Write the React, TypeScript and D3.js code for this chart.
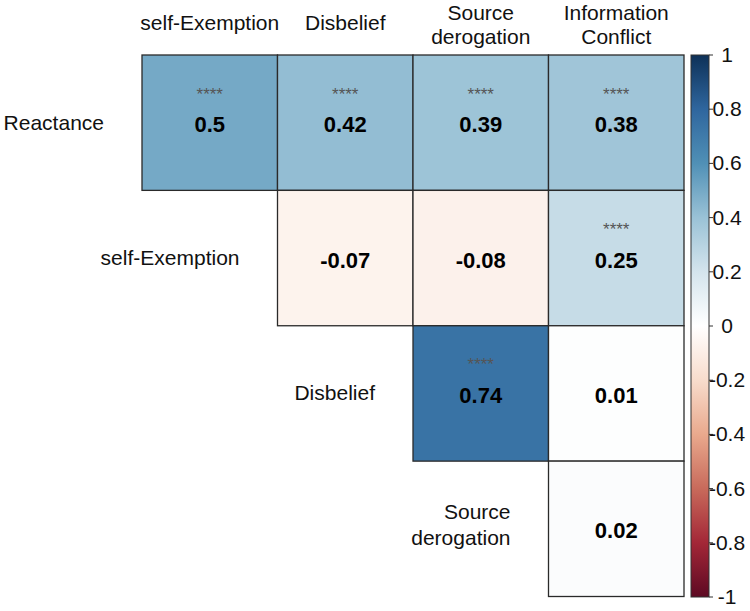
import React from "react";
import * as d3 from "d3";

const rowLabels = ["Reactance", "self-Exemption", "Disbelief", "Source\nderogation"];
const colLabels = ["self-Exemption", "Disbelief", "Source\nderogation", "Information\nConflict"];
// upper-triangle correlations: row i, col j (j >= i)
const corrRow0 = [0.5, 0.42, 0.39, 0.38];
const corrRow1 = [-0.07, -0.08, 0.25];
const corrRow2 = [0.74, 0.01];
const corrRow3 = [0.02];
const sigRow0 = ["****", "****", "****", "****"];
const sigRow1 = ["", "", "****"];
const sigRow2 = ["****", ""];
const sigRow3 = [""];
const legendTicks = [1, 0.8, 0.6, 0.4, 0.2, 0, -0.2, -0.4, -0.6, -0.8, -1];
const rampStops = [-1, -0.8, -0.6, -0.4, -0.2, 0, 0.2, 0.4, 0.6, 0.8, 1];
const rampColors = ["#67001F", "#B2182B", "#D6604D", "#F4A582", "#FDDBC7", "#FFFFFF", "#D1E5F0", "#92C5DE", "#4393C3", "#2166AC", "#053061"];

const FONT = "'Liberation Sans', Arial, sans-serif";

function soften(c: string): string {
  const h = d3.hsl(c);
  h.s = h.s * 0.8;
  return h.formatHex();
}

export default function App() {
  const width = 750, height = 611;
  const x = d3.scaleBand<number>().domain([0, 1, 2, 3]).range([142, 684]).padding(0);
  const y = d3.scaleBand<number>().domain([0, 1, 2, 3]).range([55, 596.5]).padding(0);
  const softColors = rampColors.map(soften);
  const color = d3.scaleLinear<string>().domain(rampStops).range(softColors).interpolate(d3.interpolateRgb);
  const legendY = d3.scaleLinear().domain([-1, 1]).range([597, 55]);

  const rows = [corrRow0, corrRow1, corrRow2, corrRow3];
  const sigs = [sigRow0, sigRow1, sigRow2, sigRow3];
  const cells: { i: number; j: number; v: number; s: string }[] = [];
  rows.forEach((r, i) => r.forEach((v, k) => cells.push({ i, j: i + k, v, s: sigs[i][k] })));

  const bw = x.bandwidth();
  const bh = y.bandwidth();

  return (
    <svg width={width} height={height} style={{ position: "absolute", left: 0, top: 0, background: "#fff" }} fontFamily={FONT}>
      <defs>
        <linearGradient id="legendGrad" x1="0" y1="1" x2="0" y2="0">
          {rampStops.map((s, k) => (
            <stop key={k} offset={`${((s + 1) / 2) * 100}%`} stopColor={softColors[k]} />
          ))}
        </linearGradient>
      </defs>
      {/* column headers */}
      {colLabels.map((lab, j) => {
        const lines = lab.split("\n");
        const cx = (x(j) as number) + bw / 2;
        return (
          <text key={"c" + j} x={cx} textAnchor="middle" fontSize={21} fill="#111">
            {lines.map((ln, k) => (
              <tspan key={k} x={cx} y={lines.length === 1 ? 30 : 20 + k * 24}>{ln}</tspan>
            ))}
          </text>
        );
      })}
      {/* row labels at diagonal positions */}
      {rowLabels.map((lab, i) => {
        const lines = lab.split("\n");
        const rx = (x(i) as number) - 38;
        const cy = (y(i) as number) + bh / 2;
        return (
          <text key={"r" + i} x={rx} textAnchor="end" fontSize={21} fill="#111">
            {lines.map((ln, k) => (
              <tspan key={k} x={rx} y={cy + 7 + (k - (lines.length - 1) / 2) * 26 - (lines.length > 1 ? 4 : 0)}>{ln}</tspan>
            ))}
          </text>
        );
      })}
      {/* cells */}
      {cells.map((c) => (
        <rect key={`cell${c.i}-${c.j}`} x={x(c.j)} y={y(c.i)} width={bw} height={bh} fill={color(c.v)} stroke="#2a2a2a" strokeWidth={1.3} />
      ))}
      {cells.map((c) => {
        const cx = (x(c.j) as number) + bw / 2;
        const cy = (y(c.i) as number) + bh / 2;
        return (
          <g key={`lab${c.i}-${c.j}`}>
            {c.s && (
              <text x={cx} y={cy - 23} textAnchor="middle" fontSize={17} fill="#555">{c.s}</text>
            )}
            <text x={cx} y={cy + 9.5} textAnchor="middle" fontSize={22} fontWeight="bold" fill="#000">
              {String(c.v)}
            </text>
          </g>
        );
      })}
      {/* color legend */}
      <rect x={691} y={legendY(1)} width={18} height={legendY(-1) - legendY(1)} fill="url(#legendGrad)" stroke="#333" strokeWidth={1} />
      {legendTicks.map((t) => (
        <g key={"t" + t}>
          <line x1={709} x2={713} y1={legendY(t)} y2={legendY(t)} stroke="#333" strokeWidth={1} />
          <text x={727} y={legendY(t) + 7} textAnchor="middle" fontSize={21} fill="#111">{String(t)}</text>
        </g>
      ))}
    </svg>
  );
}
